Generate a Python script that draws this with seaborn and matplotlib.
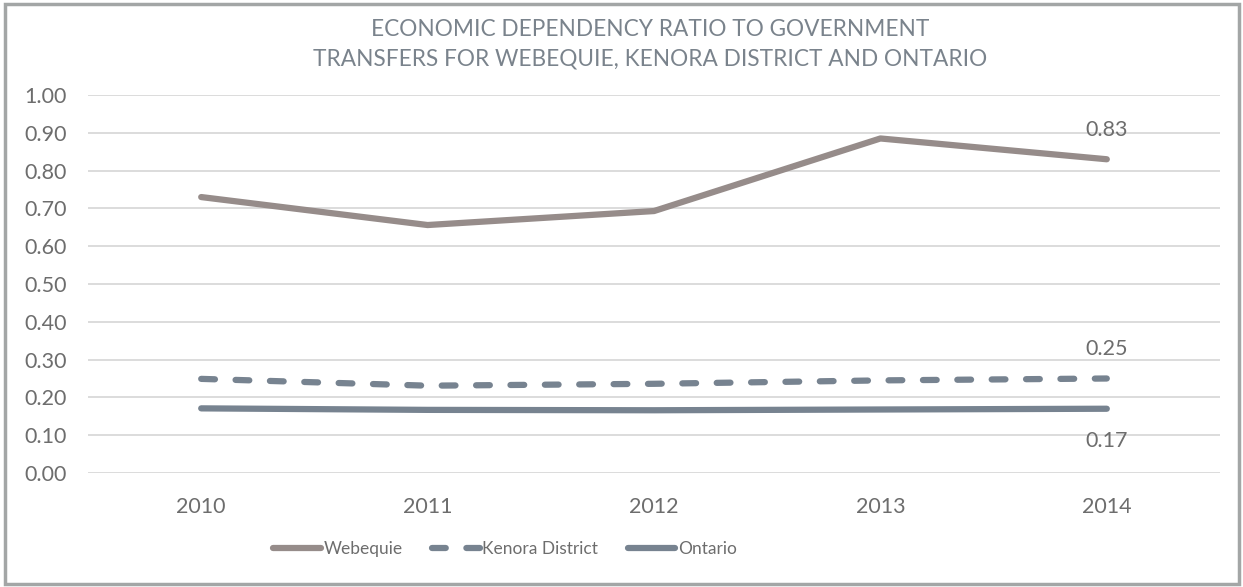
import matplotlib
matplotlib.use("Agg")
import matplotlib.pyplot as plt
import seaborn as sns
import pandas as pd
from matplotlib.patches import Rectangle
from matplotlib.lines import Line2D

years = ["2010", "2011", "2012", "2013", "2014"]
webequie = [0.73, 0.656, 0.693, 0.885, 0.83]
kenora = [0.249, 0.231, 0.236, 0.245, 0.25]
ontario = [0.171, 0.167, 0.166, 0.168, 0.17]
series_names = ["Webequie", "Kenora District", "Ontario"]
end_labels = ["0.83", "0.25", "0.17"]
yticks = [0.0, 0.1, 0.2, 0.3, 0.4, 0.5, 0.6, 0.7, 0.8, 0.9, 1.0]

sns.set_theme(style="white")
plt.rcParams["font.family"] = ["Lato", "DejaVu Sans"]

text_col = "#6d6d6d"
title_col = "#7a838c"
c_web = "#968c8a"
c_blue = "#778390"

fig = plt.figure(figsize=(12.43, 5.87), dpi=100, facecolor="white")
ax = fig.add_axes([88/1243, 1-473/587, (1220-88)/1243, (473-95)/587])

df = pd.DataFrame({"year": list(range(len(years))) * 3,
                   "value": webequie + kenora + ontario,
                   "series": sum([[s] * len(years) for s in series_names], [])})

styles = {
    "Webequie": dict(color=c_web, dashes=None),
    "Kenora District": dict(color=c_blue, dashes=(2.2, 3.3)),
    "Ontario": dict(color=c_blue, dashes=None),
}
handles = []
for name in series_names:
    sub = df[df["series"] == name]
    st = styles[name]
    sns.lineplot(data=sub, x="year", y="value", ax=ax, color=st["color"],
                 linewidth=4.5, legend=False)
    ln = ax.lines[-1]
    ln.set_solid_capstyle("round")
    ln.set_dash_capstyle("round")
    if st["dashes"]:
        ln.set_dashes(st["dashes"])
    h = Line2D([0], [0], color=st["color"], lw=4.5, solid_capstyle="round",
               dash_capstyle="round")
    if st["dashes"]:
        h.set_dashes(st["dashes"])
    handles.append(h)

ax.set_xlim(-0.5, 4.5)
ax.set_ylim(0, 1.0)
ax.set_yticks(yticks)
ax.set_yticklabels([f"{v:.2f}" for v in yticks])
ax.set_xticks(range(len(years)))
ax.set_xticklabels(years)
ax.set_xlabel("")
ax.set_ylabel("")
ax.grid(axis="y", color="#d9d9d9", linewidth=1.3)
ax.set_axisbelow(True)
for s in ax.spines.values():
    s.set_visible(False)
ax.tick_params(axis="both", length=0, labelsize=15.5, labelcolor=text_col)
ax.tick_params(axis="y", pad=15)
ax.tick_params(axis="x", pad=17)

# end data labels
ax.annotate(end_labels[0], (4, webequie[-1]), xytext=(0, 21), textcoords="offset points",
            ha="center", va="center", fontsize=15.5, color=text_col)
ax.annotate(end_labels[1], (4, kenora[-1]), xytext=(0, 21.5), textcoords="offset points",
            ha="center", va="center", fontsize=15.5, color=text_col)
ax.annotate(end_labels[2], (4, ontario[-1]), xytext=(0, -23), textcoords="offset points",
            ha="center", va="center", fontsize=15.5, color=text_col)

fig.text(650/1243, 1-44/587, "ECONOMIC DEPENDENCY RATIO TO GOVERNMENT\nTRANSFERS FOR WEBEQUIE, KENORA DISTRICT AND ONTARIO",
         ha="center", va="center", fontsize=16.3, color=title_col, linespacing=1.5)

leg = fig.legend(handles, series_names, loc="center", bbox_to_anchor=(505/1243, 1-549/587),
                 ncol=3, frameon=False, fontsize=12.5, handlelength=2.75,
                 handletextpad=0.15, columnspacing=1.7)
for t in leg.get_texts():
    t.set_color(text_col)

fig.patches.append(Rectangle((5/1243, 3/587), 1234/1243, 580/587, transform=fig.transFigure,
                             fill=False, edgecolor="#a3a6a6", linewidth=2.5))

fig.savefig("out.png", dpi=100, facecolor="white")
